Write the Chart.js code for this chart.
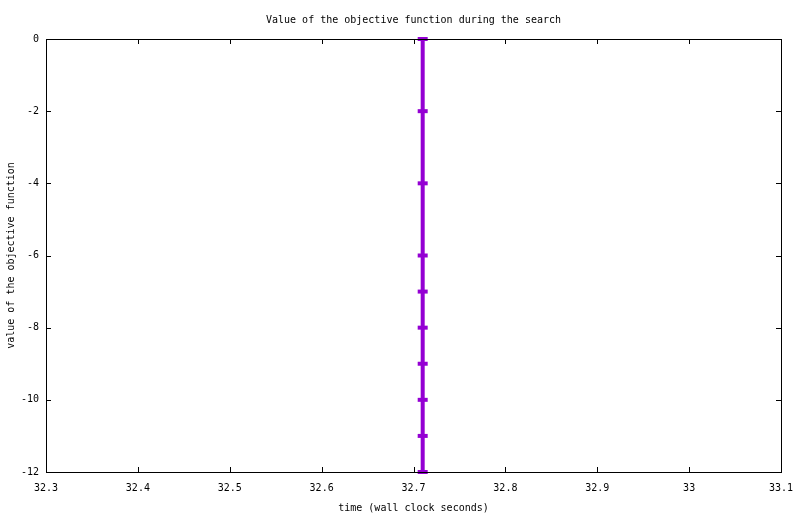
<!DOCTYPE html>
<html>
<head>
<meta charset="utf-8">
<script src="https://cdn.jsdelivr.net/npm/chart.js@4.4.0/dist/chart.umd.min.js"></script>
<style>
  html, body { margin: 0; padding: 0; background: #fff; }
  #wrap { width: 800px; height: 514px; }
</style>
</head>
<body>
<div id="wrap"><canvas id="objChart"></canvas></div>
<script>
// values
const timeValues = [32.71, 32.71, 32.71, 32.71, 32.71, 32.71, 32.71, 32.71, 32.71, 32.71];
const objectiveValues = [0, -2, -4, -6, -7, -8, -9, -10, -11, -12];
const xTicks = [32.3, 32.4, 32.5, 32.6, 32.7, 32.8, 32.9, 33, 33.1];
const yTicks = [-12, -10, -8, -6, -4, -2, 0];

const FONT = '"DejaVu Sans Mono", "Liberation Mono", monospace';
const lineColor = '#9400d3';

const points = timeValues.map((t, i) => ({ x: t, y: objectiveValues[i] }));

// gnuplot style frame with inward ticks on all four sides
const framePlugin = {
    id: 'frame',
    afterDraw(chart) {
        const { ctx, chartArea: a, scales } = chart;
        const len = 5;
        ctx.save();
        ctx.strokeStyle = '#000';
        ctx.lineWidth = 1;
        ctx.beginPath();
        xTicks.forEach(v => {
            const px = Math.round(scales.x.getPixelForValue(v)) + 0.5;
            ctx.moveTo(px, a.bottom); ctx.lineTo(px, a.bottom - len);
            ctx.moveTo(px, a.top); ctx.lineTo(px, a.top + len);
        });
        yTicks.forEach(v => {
            const py = Math.round(scales.y.getPixelForValue(v)) + 0.5;
            ctx.moveTo(a.left, py); ctx.lineTo(a.left + len, py);
            ctx.moveTo(a.right, py); ctx.lineTo(a.right - len, py);
        });
        ctx.stroke();
        ctx.strokeRect(Math.round(a.left) + 0.5, Math.round(a.top) + 0.5,
                       Math.round(a.right - a.left), Math.round(a.bottom - a.top));
        ctx.restore();
    }
};

new Chart(document.getElementById('objChart'), {
    type: 'scatter',
    data: {
        datasets: [{
            data: points,
            showLine: true,
            borderColor: lineColor,
            backgroundColor: lineColor,
            borderWidth: 4,
            pointStyle: 'line',
            pointRadius: 5,
            pointBorderWidth: 4,
            pointBorderColor: lineColor,
            clip: false
        }]
    },
    options: {
        responsive: true,
        maintainAspectRatio: false,
        animation: false,
        layout: { padding: { left: 5, right: 19, top: 0, bottom: 0 } },
        plugins: {
            legend: { display: false },
            tooltip: { enabled: false },
            title: {
                display: true,
                fullSize: false,
                text: 'Value of the objective function during the search',
                color: '#000',
                font: { family: FONT, size: 10, weight: 'normal' },
                padding: { top: 14, bottom: 13 }
            }
        },
        scales: {
            x: {
                type: 'linear',
                min: 32.3,
                max: 33.1,
                afterBuildTicks: s => { s.ticks = xTicks.map(v => ({ value: v })); },
                afterFit: s => { s.height = 42; s.paddingLeft = 0; s.paddingRight = 0; },
                grid: { display: false, drawTicks: false },
                border: { display: false },
                ticks: {
                    color: '#000',
                    padding: 10,
                    maxRotation: 0,
                    font: { family: FONT, size: 10 },
                    callback: v => String(Number(v.toFixed(1)))
                },
                title: {
                    display: true,
                    text: 'time (wall clock seconds)',
                    color: '#000',
                    font: { family: FONT, size: 10 },
                    padding: { top: 1, bottom: 0 }
                }
            },
            y: {
                type: 'linear',
                min: -12,
                max: 0,
                afterBuildTicks: s => { s.ticks = yTicks.map(v => ({ value: v })); },
                afterFit: s => { s.width = 41; s.paddingTop = 0; s.paddingBottom = 0; },
                grid: { display: false, drawTicks: false },
                border: { display: false },
                ticks: {
                    color: '#000',
                    padding: 7,
                    font: { family: FONT, size: 10 }
                },
                title: {
                    display: true,
                    text: 'value of the objective function',
                    color: '#000',
                    font: { family: FONT, size: 10 },
                    padding: { top: 0, bottom: 0 }
                }
            }
        }
    },
    plugins: [framePlugin]
});
</script>
</body>
</html>
